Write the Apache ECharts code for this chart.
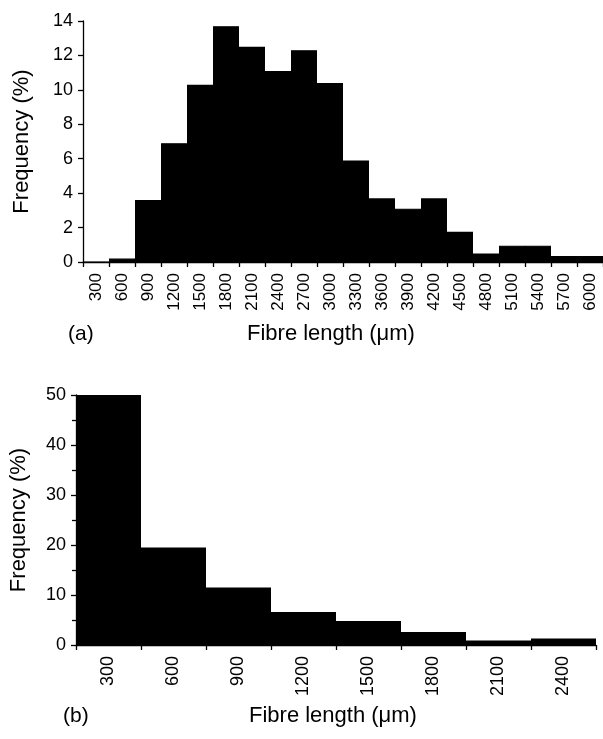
<!DOCTYPE html>
<html>
<head>
<meta charset="utf-8">
<script src="https://cdn.jsdelivr.net/npm/echarts@6/dist/echarts.min.js"></script>
<style>
html,body{margin:0;padding:0;background:#fff;}
#chart{width:603px;height:739px;}
</style>
</head>
<body>
<div id="chart"></div>
<script>
// Panel (a): fibre length distribution
const catsA = ['300','600','900','1200','1500','1800','2100','2400','2700','3000','3300','3600','3900','4200','4500','4800','5100','5400','5700','6000'];
const freqA = [0, 0.2, 3.6, 6.9, 10.3, 13.7, 12.5, 11.1, 12.3, 10.4, 5.9, 3.7, 3.1, 3.7, 1.75, 0.5, 0.95, 0.95, 0.35, 0.35];
// Panel (b)
const catsB = ['300','600','900','1200','1500','1800','2100','2400'];
const freqB = [50, 19.5, 11.5, 6.6, 4.8, 2.6, 0.9, 1.3];

const yTitle = 'Frequency (%)';
const xTitle = 'Fibre length (\u03bcm)';

const FONT = 'Liberation Sans, Arial, Helvetica, sans-serif';
const chart = echarts.init(document.getElementById('chart'), null, {renderer:'canvas'});

const axisLineStyle = {show:true, lineStyle:{color:'#000', width:1.3}};
const tickStyle = {show:true, length:5, lineStyle:{color:'#000', width:1.3}};

chart.setOption({
  animation:false,
  backgroundColor:'#fff',
  grid:[
    {left:83, top:21, width:520, height:241},
    {left:75, top:395, width:521, height:250}
  ],
  xAxis:[
    {type:'category', gridIndex:0, data:catsA, boundaryGap:true,
     axisLine:axisLineStyle, axisTick:{...tickStyle, alignWithLabel:false},
     axisLabel:{interval:0, rotate:90, color:'#000', fontSize:17, fontFamily:FONT, margin:11},
     splitLine:{show:false}},
    {type:'category', gridIndex:1, data:catsB, boundaryGap:true,
     axisLine:axisLineStyle, axisTick:{...tickStyle, alignWithLabel:false},
     axisLabel:{interval:0, rotate:90, color:'#000', fontSize:18, fontFamily:FONT, margin:11},
     splitLine:{show:false}}
  ],
  yAxis:[
    {type:'value', gridIndex:0, min:0, max:14, interval:2,
     axisLine:axisLineStyle, axisTick:tickStyle,
     axisLabel:{color:'#000', fontSize:18, fontFamily:FONT, margin:10},
     splitLine:{show:false},
     name:yTitle, nameLocation:'middle', nameGap:50, nameRotate:90,
     nameTextStyle:{color:'#000', fontSize:22, fontFamily:FONT}},
    {type:'value', gridIndex:1, min:0, max:50, interval:10,
     axisLine:axisLineStyle, axisTick:tickStyle,
     minorTick:{show:true, splitNumber:2, length:4, lineStyle:{color:'#000', width:1.3}},
     axisLabel:{color:'#000', fontSize:18, fontFamily:FONT, margin:10},
     splitLine:{show:false},
     name:yTitle, nameLocation:'middle', nameGap:46, nameRotate:90,
     nameTextStyle:{color:'#000', fontSize:22, fontFamily:FONT}}
  ],
  series:[
    {type:'bar', xAxisIndex:0, yAxisIndex:0, data:freqA, barWidth:'100%', barCategoryGap:'0%',
     itemStyle:{color:'#000', borderColor:'#000', borderWidth:1.2}},
    {type:'bar', xAxisIndex:1, yAxisIndex:1, data:freqB, barWidth:'100%', barCategoryGap:'0%',
     itemStyle:{color:'#000', borderColor:'#000', borderWidth:1.2}}
  ],
  graphic:[
    {type:'text', left:68, top:324, style:{text:'(a)', fontSize:21, fontFamily:FONT, fill:'#000'}},
    {type:'text', left:247, top:323, style:{text:xTitle, fontSize:22, fontFamily:FONT, fill:'#000'}},
    {type:'text', left:63, top:706, style:{text:'(b)', fontSize:21, fontFamily:FONT, fill:'#000'}},
    {type:'text', left:249, top:705, style:{text:xTitle, fontSize:22, fontFamily:FONT, fill:'#000'}}
  ]
});
</script>
</body>
</html>
